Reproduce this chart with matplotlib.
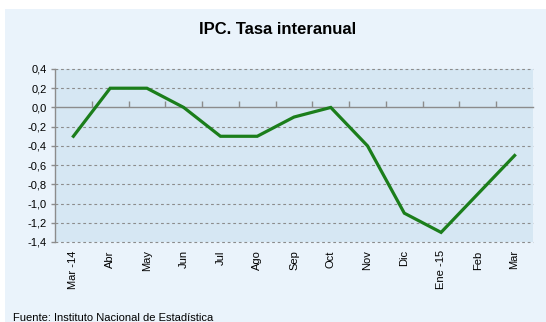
import matplotlib
matplotlib.use("Agg")
import matplotlib.pyplot as plt
from matplotlib.patches import Rectangle
import numpy as np

plt.rcParams['font.family'] = ['Liberation Sans', 'DejaVu Sans']

months = ["Mar -14", "Abr", "May", "Jun", "Jul", "Ago", "Sep", "Oct",
          "Nov", "Dic", "Ene -15", "Feb", "Mar"]
ipc = [-0.3, 0.2, 0.2, 0.0, -0.3, -0.3, -0.1, 0.0, -0.4, -1.1, -1.3, -0.9, -0.5]
y_ticks = [0.4, 0.2, 0.0, -0.2, -0.4, -0.6, -0.8, -1.0, -1.2, -1.4]

W, H = 546, 322
fig = plt.figure(figsize=(W / 100, H / 100), dpi=100)
fig.patch.set_facecolor('white')

# light panel behind the whole chart
fig.patches.append(Rectangle((5 / W, 0), 1 - 5 / W, (H - 9) / H,
                             transform=fig.transFigure, facecolor='#EAF3FB',
                             edgecolor='none', zorder=-5))

ax = fig.add_axes([55 / W, (H - 242) / H, (533 - 55) / W, (242 - 69) / H])
ax.set_zorder(2)
ax.set_facecolor('#D6E7F3')

x = np.arange(len(months))
ax.plot(x, ipc, color='#1B7E1B', linewidth=2.3, solid_joinstyle='miter', zorder=4)

ymin, ymax = min(y_ticks), max(y_ticks)
ax.set_ylim(ymin, ymax)
ax.set_xlim(-0.5, len(months) - 0.5)

ax.set_yticks(y_ticks)
ax.set_yticklabels([f"{v:.1f}".replace('.', ',') for v in y_ticks], fontsize=8)
for v in y_ticks:
    if v != 0:
        ax.axhline(v, color='#8C8C8C', linewidth=0.8, linestyle=(0, (2.5, 2.5)),
                   zorder=1, clip_on=False)

ax.set_xticks(x)
ax.set_xticklabels(months, rotation=90, fontsize=8)
ax.tick_params(axis='x', length=0, pad=6)
ax.tick_params(axis='y', length=3, color='#8C8C8C', width=1, pad=3)

for s in ['top', 'right', 'bottom']:
    ax.spines[s].set_visible(False)
ax.spines['left'].set_color('#8C8C8C')
ax.spines['left'].set_linewidth(1.0)

# category axis drawn along the zero line, ticks between categories
zero_loc = (0 - ymin) / (ymax - ymin)
sec = ax.secondary_xaxis(zero_loc)
sec.set_xticks(np.arange(len(months) - 1) + 0.5)
sec.set_xticklabels([])
sec.tick_params(axis='x', direction='out', length=4, color='#8C8C8C', width=1)
for sp in sec.spines.values():
    sp.set_color('#8C8C8C')
    sp.set_linewidth(1.0)

fig.text(278 / W, 1 - 30 / H, "IPC. Tasa interanual", ha='center', va='center',
         fontsize=12, fontweight='bold')
fig.text(13 / W, 1 - 318 / H, "Fuente: Instituto Nacional de Estadística",
         ha='left', va='center', fontsize=8)

fig.savefig("out.png", dpi=100, facecolor=fig.get_facecolor())
